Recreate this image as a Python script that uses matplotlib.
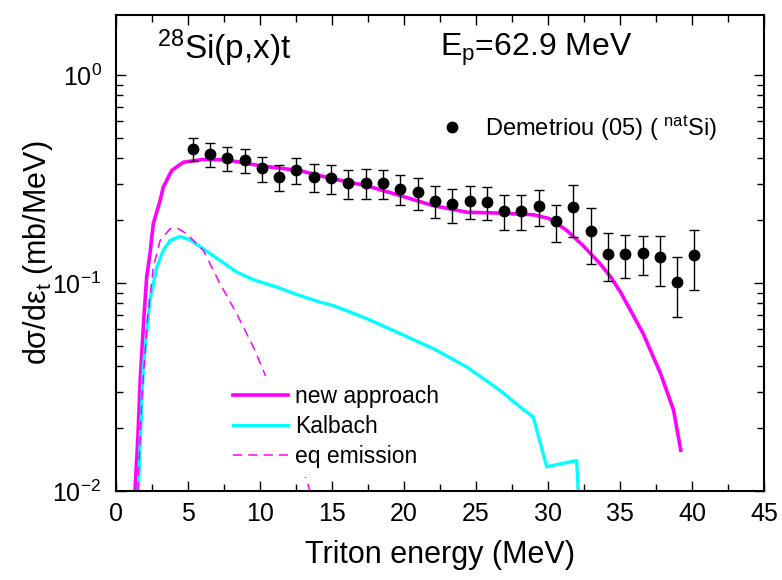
import matplotlib
matplotlib.use('Agg')
import matplotlib.pyplot as plt
from matplotlib.ticker import MultipleLocator, LogLocator, NullFormatter

# measured triton spectrum, Demetriou (05), natSi
energy = [5.35, 6.55, 7.75, 8.95, 10.15, 11.35, 12.55, 13.75, 14.95, 16.15,
          17.35, 18.55, 19.75, 20.95, 22.15, 23.35, 24.55, 25.75, 26.95, 28.15,
          29.35, 30.55, 31.75, 32.95, 34.15, 35.35, 36.55, 37.75, 38.95, 40.15]
xsec = [0.442, 0.418, 0.398, 0.391, 0.356, 0.323, 0.348, 0.325, 0.319, 0.302,
        0.303, 0.302, 0.284, 0.273, 0.249, 0.239, 0.248, 0.245, 0.222, 0.223,
        0.234, 0.198, 0.232, 0.177, 0.138, 0.138, 0.139, 0.133, 0.101, 0.136]
xsec_err = [0.054, 0.055, 0.053, 0.052, 0.049, 0.047, 0.050, 0.050, 0.052, 0.049,
            0.049, 0.049, 0.046, 0.048, 0.044, 0.045, 0.045, 0.045, 0.043, 0.043,
            0.045, 0.040, 0.065, 0.053, 0.036, 0.032, 0.030, 0.036, 0.032, 0.043]

# calculations
e_new = [1.35, 1.55, 1.72, 1.95, 2.16, 2.39, 2.62, 3.09, 3.31, 3.9, 4.7, 6.07,
         7.7, 10.0, 12.8, 15.1, 17.4, 19.7, 22.0, 24.4, 26.7, 29.0, 30.1, 31.3,
         32.4, 33.6, 34.3, 35.0, 35.9, 36.6, 37.8, 38.7, 39.2]
s_new = [0.01, 0.018, 0.035, 0.065, 0.107, 0.138, 0.193, 0.249, 0.289, 0.348,
         0.381, 0.393, 0.391, 0.367, 0.347, 0.317, 0.294, 0.264, 0.236, 0.219,
         0.217, 0.213, 0.204, 0.179, 0.152, 0.124, 0.108, 0.091, 0.070, 0.057,
         0.0367, 0.0245, 0.0157]

e_kal = [1.58, 1.93, 2.39, 2.86, 3.31, 3.78, 4.47, 5.17, 6.09, 7.25, 8.40, 9.56,
         11.18, 12.6, 14.18, 15.1, 17.42, 19.73, 22.04, 24.36, 26.66, 28.05,
         28.97, 29.9, 31.98, 32.09]
s_kal = [0.01, 0.0395, 0.0826, 0.119, 0.1435, 0.160, 0.1676, 0.1616, 0.146,
         0.1285, 0.113, 0.1038, 0.0957, 0.088, 0.081, 0.078, 0.0675, 0.0572,
         0.0484, 0.0395, 0.0305, 0.0254, 0.0227, 0.0131, 0.014, 0.01]

e_eq = [1.55, 1.82, 2.2, 2.62, 3.09, 3.78, 4.24, 4.94, 6.09, 7.25, 7.71, 8.40,
        9.56, 10.37, 11.5, 12.3, 13.02, 13.49]
s_eq = [0.01, 0.0273, 0.065, 0.119, 0.160, 0.1824, 0.1845, 0.1726, 0.1435,
        0.0993, 0.087, 0.0713, 0.0493, 0.0363, 0.0231, 0.0168, 0.0126, 0.01]

plt.rcParams['font.family'] = ['Liberation Sans', 'DejaVu Sans']
plt.rcParams['mathtext.fontset'] = 'custom'
plt.rcParams['mathtext.rm'] = 'Liberation Sans'
plt.rcParams['mathtext.it'] = 'Liberation Sans:italic'
plt.rcParams['mathtext.bf'] = 'Liberation Sans:bold'
plt.rcParams['lines.solid_joinstyle'] = 'round'

fig = plt.figure(figsize=(7.82, 5.8), dpi=100)
ax = fig.add_axes([0.1477, 0.1534, 0.8298, 0.8211])

l_new, = ax.plot(e_new, s_new, color='#ff00ff', lw=2.6, label='new approach')
l_kal, = ax.plot(e_kal, s_kal, color='#00ffff', lw=2.4, label='Kalbach')
l_eq, = ax.plot(e_eq, s_eq, color='#ff00ff', lw=1.1, dashes=(6, 4), label='eq emission')

ax.errorbar(energy, xsec, yerr=xsec_err, fmt='none', ecolor='black',
            elinewidth=1.0, capsize=3.8, capthick=1.0, zorder=4)
pts, = ax.plot(energy, xsec, 'o', color='black', ms=7.5, zorder=5)

ax.set_yscale('log')
ax.set_xlim(0, 45)
ax.set_ylim(0.01, 1.95)

ax.xaxis.set_major_locator(MultipleLocator(5))
ax.xaxis.set_minor_locator(MultipleLocator(2.5))
ax.yaxis.set_major_locator(LogLocator(base=10, numticks=10))
ax.yaxis.set_minor_locator(LogLocator(base=10, subs=range(2, 10), numticks=10))
ax.yaxis.set_minor_formatter(NullFormatter())

ax.tick_params(which='both', direction='in', top=True, right=True, width=1.0)
ax.tick_params(which='major', length=7)
ax.tick_params(which='minor', length=5)
ax.tick_params(axis='x', labelsize=18, pad=8)
ax.tick_params(axis='y', labelsize=18, pad=10)
for sp in ax.spines.values():
    sp.set_linewidth(1.5)

ax.set_xlabel('Triton energy (MeV)', fontsize=22, labelpad=10)
ax.set_ylabel(r'dσ/dε$_\mathrm{t}$ (mb/MeV)', fontsize=22, labelpad=-2)

ax.text(0.064, 0.93, r'$^{28}$Si(p,x)t', transform=ax.transAxes,
        fontsize=24, va='center', ha='left')
ax.text(0.50, 0.926, r'E$_\mathrm{p}$=62.9 MeV', transform=ax.transAxes,
        fontsize=23, va='center', ha='left')

leg1 = ax.legend(handles=[l_new, l_kal, l_eq], loc='upper left',
                 bbox_to_anchor=(224 / 782, 1 - 376 / 580), bbox_transform=fig.transFigure,
                 frameon=True, fancybox=False, edgecolor='none', facecolor='white',
                 framealpha=1, fontsize=16.5, handlelength=2.4, handletextpad=0.3,
                 labelspacing=0.3, borderpad=0.4, borderaxespad=0)
ax.add_artist(leg1)
ax.legend(handles=[pts], labels=[r'Demetriou (05) ( $^\mathrm{nat}$Si)'], loc='center left',
          bbox_to_anchor=(440.5 / 782, 1 - 128 / 580), bbox_transform=fig.transFigure,
          frameon=False, fontsize=17, handlelength=1.0, handletextpad=0.9,
          borderpad=0, borderaxespad=0, numpoints=1)

fig.savefig('out.png', dpi=100)
